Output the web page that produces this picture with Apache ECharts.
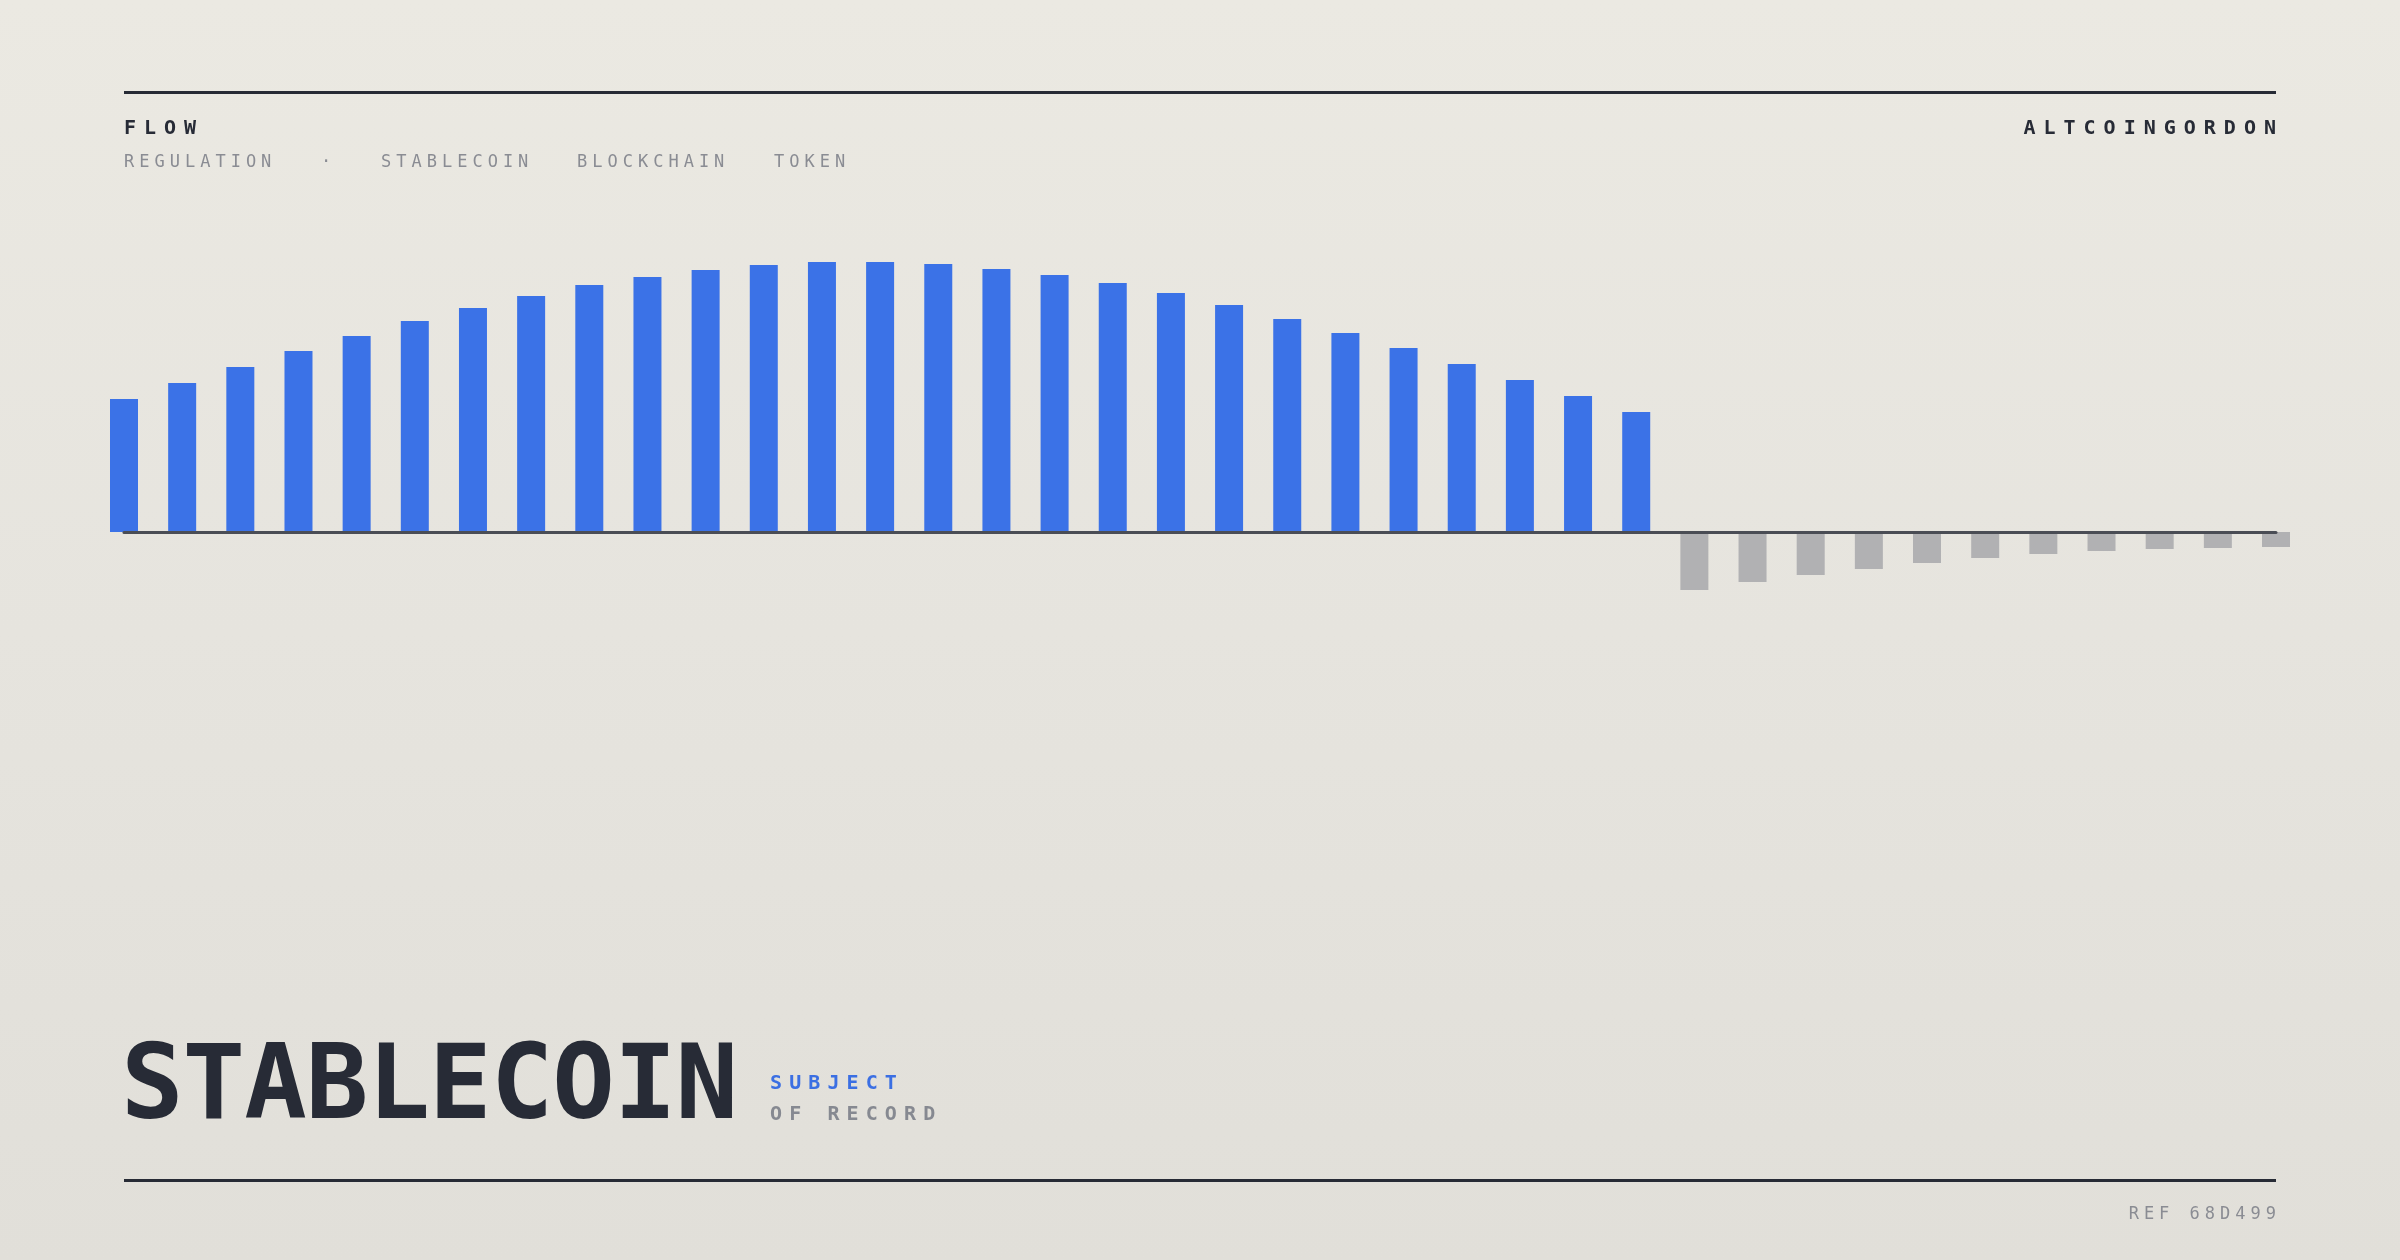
<!DOCTYPE html>
<html>
<head>
<meta charset="utf-8">
<script src="https://cdn.jsdelivr.net/npm/echarts@6/dist/echarts.min.js"></script>
<style>
  html, body { margin: 0; padding: 0; }
  body {
    width: 2400px; height: 1260px; overflow: hidden; position: relative;
    background: linear-gradient(180deg, #ebe9e2 0%, #e6e4de 50%, #e1dfd9 100%);
    font-family: "DejaVu Sans Mono", monospace;
  }
  #chart { position: absolute; left: 0; top: 0; width: 2400px; height: 1260px; }
  .t { position: absolute; white-space: nowrap; margin: 0; }
  .kicker { font-size: 20px; line-height: 20px; font-weight: bold; letter-spacing: 8px; color: #272b36; }
  .tag { font-size: 17px; line-height: 17px; letter-spacing: 5px; color: #8a8c93; }
  .big { font-size: 104px; line-height: 104px; font-weight: bold; letter-spacing: -1px; color: #272b36; }
  .sub { font-size: 20px; line-height: 20px; font-weight: bold; letter-spacing: 7.1px; }
</style>
</head>
<body>
<div id="chart"></div>
<div class="t kicker" style="left:124px; top:117px;">FLOW</div>
<div class="t kicker" style="right:116px; top:117px;">ALTCOINGORDON</div>
<div class="t tag" style="left:124px; top:153px;">REGULATION</div>
<div class="t tag" style="left:321px; top:153px;">·</div>
<div class="t tag" style="left:381px; top:153px;">STABLECOIN</div>
<div class="t tag" style="left:577px; top:153px;">BLOCKCHAIN</div>
<div class="t tag" style="left:774px; top:153px;">TOKEN</div>
<div class="t big" style="left:121px; top:1030px;">STABLECOIN</div>
<div class="t sub" style="left:770px; top:1072px; color:#3b6fe3;">SUBJECT</div>
<div class="t sub" style="left:770px; top:1103px; color:#868991;">OF RECORD</div>
<div class="t tag" style="right:119px; top:1205px;">REF 68D499</div>
<script>
// ---- data ----
const categories = [
  'P01','P02','P03','P04','P05','P06','P07','P08','P09','P10',
  'P11','P12','P13','P14','P15','P16','P17','P18','P19','P20',
  'P21','P22','P23','P24','P25','P26','P27','P28','P29','P30',
  'P31','P32','P33','P34','P35','P36','P37','P38'
];
const flowValues = [
  133, 149, 165, 181, 196, 211, 224, 236, 247, 255,
  262, 267, 270, 270, 268, 263, 257, 249, 239, 227,
  213, 199, 184, 168, 152, 136, 120,
  -58, -50, -43, -37, -31, -26, -22, -19, -17, -16, -15
];
const yRange = [-400, 400];

const positiveColor = '#3b72e7';
const negativeColor = '#b1b1b3';
const ruleColor = '#272b35';

const chart = echarts.init(document.getElementById('chart'), null, { renderer: 'canvas', width: 2400, height: 1260 });
chart.setOption({
  backgroundColor: 'transparent',
  animation: false,
  grid: { left: 124, right: 124, top: 132, height: 800 },
  xAxis: {
    type: 'category',
    data: categories,
    boundaryGap: false,
    z: 10,
    axisLine: { show: true, onZero: true, lineStyle: { color: '#4a4d55', width: 3 } },
    axisTick: { show: false },
    axisLabel: { show: false },
    splitLine: { show: false }
  },
  yAxis: {
    type: 'value',
    min: yRange[0],
    max: yRange[1],
    axisLine: { show: false },
    axisTick: { show: false },
    axisLabel: { show: false },
    splitLine: { show: false }
  },
  series: [{
    type: 'bar',
    clip: false,
    barWidth: 28,
    data: flowValues.map(v => ({
      value: v,
      itemStyle: { color: v >= 0 ? positiveColor : negativeColor }
    }))
  }],
  graphic: [
    { type: 'rect', shape: { x: 124, y: 91, width: 2152, height: 3 }, style: { fill: ruleColor } },
    { type: 'rect', shape: { x: 124, y: 1179, width: 2152, height: 3 }, style: { fill: ruleColor } }
  ]
});
</script>
</body>
</html>
